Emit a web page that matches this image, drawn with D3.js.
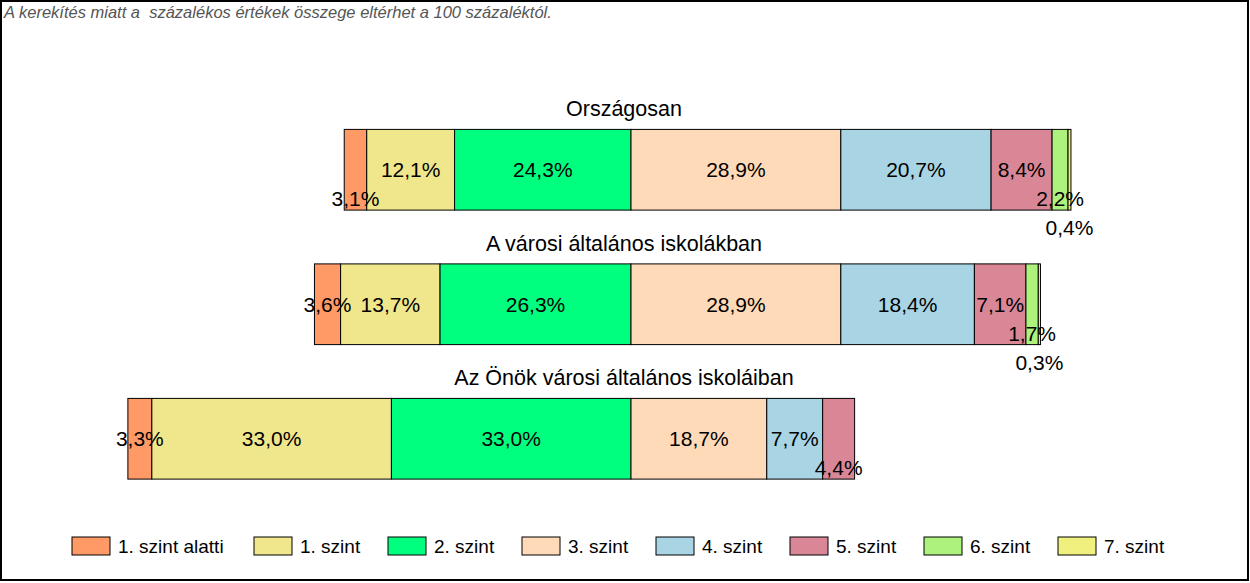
<!DOCTYPE html>
<html>
<head>
<meta charset="utf-8">
<script src="https://cdn.jsdelivr.net/npm/d3@7"></script>
<style>
  html, body { margin: 0; padding: 0; background: #fff; }
  svg { display: block; }
  text { font-family: "Liberation Sans", Arial, sans-serif; }
</style>
</head>
<body>
<svg id="chart" width="1250" height="583"></svg>
<script>
// ---- data ----
const categories = ["Országosan", "A városi általános iskolákban", "Az Önök városi általános iskoláiban"];
const levels = ["1. szint alatti", "1. szint", "2. szint", "3. szint", "4. szint", "5. szint", "6. szint", "7. szint"];
const orszagosan = [3.1, 12.1, 24.3, 28.9, 20.7, 8.4, 2.2, 0.4];
const varosi = [3.6, 13.7, 26.3, 28.9, 18.4, 7.1, 1.7, 0.3];
const onok = [3.3, 33.0, 33.0, 18.7, 7.7, 4.4, 0, 0];
const seriesValues = [orszagosan, varosi, onok];
const colors = ["#FF9966", "#F0E68C", "#00FF7F", "#FFDAB9", "#A8D4E4", "#D98797", "#ADF27D", "#F0F07F"];
const note = "A kerekítés miatt a  százalékos értékek összege eltérhet a 100 százaléktól.";
// label stacking levels (layout only): 0 = middle of bar, 1/2 = pushed down
const labelLevels = [[1,0,0,0,0,0,1,2],[0,0,0,0,0,0,1,2],[0,0,0,0,0,1,0,0]];
const negCount = 3; // first three levels are left of the split

// ---- layout ----
const W = 1250, H = 583;
const svg = d3.select("#chart");

svg.append("rect").attr("x", 1).attr("y", 1).attr("width", W - 3).attr("height", H - 4)
  .attr("fill", "#fff").attr("stroke", "#000").attr("stroke-width", 2);

svg.append("text").attr("x", 4).attr("y", 18)
  .attr("font-size", 16.5).attr("font-style", "italic").attr("fill", "#555")
  .style("white-space", "pre").text(note);

const x = d3.scaleLinear().domain([-80, 80]).range([631 - 80 * 7.26, 631 + 80 * 7.26]);
const y = d3.scaleBand().domain(categories).range([102.5, 506]).paddingInner(0.4).paddingOuter(0.2);
const fmt = v => d3.format(".1f")(v).replace(".", ",") + "%";

categories.forEach((cat, ci) => {
  const vals = seriesValues[ci];
  const leftSum = d3.sum(vals.slice(0, negCount));
  let acc = -leftSum;
  const segs = vals.map((v, i) => { const s = { v, i, x0: acc, x1: acc + v }; acc += v; return s; });
  const g = svg.append("g");
  const top = y(cat), bh = y.bandwidth();

  g.append("text").attr("x", 624).attr("y", top - 13).attr("text-anchor", "middle")
    .attr("font-size", 21.5).attr("fill", "#000").text(cat);

  g.selectAll("rect.seg").data(segs.filter(s => s.v > 0)).join("rect")
    .attr("class", "seg")
    .attr("x", s => x(s.x0)).attr("y", top)
    .attr("width", s => x(s.x1) - x(s.x0)).attr("height", bh)
    .attr("fill", s => colors[s.i]).attr("stroke", "#000").attr("stroke-width", 1);

  g.selectAll("text.lbl").data(segs.filter(s => s.v > 0)).join("text")
    .attr("class", "lbl")
    .attr("x", s => (x(s.x0) + x(s.x1)) / 2)
    .attr("y", s => top + bh / 2 + labelLevels[ci][s.i] * 29)
    .attr("dy", "0.36em").attr("text-anchor", "middle")
    .attr("font-size", 21).attr("fill", "#000")
    .text(s => fmt(s.v));
});

// ---- legend ----
const legX = [72, 254, 388, 522, 656, 790, 924, 1058];
const leg = svg.append("g");
levels.forEach((lv, i) => {
  leg.append("rect").attr("x", legX[i]).attr("y", 537).attr("width", 38).attr("height", 18)
    .attr("fill", colors[i]).attr("stroke", "#000").attr("stroke-width", 1);
  leg.append("text").attr("x", legX[i] + 46).attr("y", 546).attr("dy", "0.36em")
    .attr("font-size", 19).attr("fill", "#000").text(lv);
});
</script>
</body>
</html>
